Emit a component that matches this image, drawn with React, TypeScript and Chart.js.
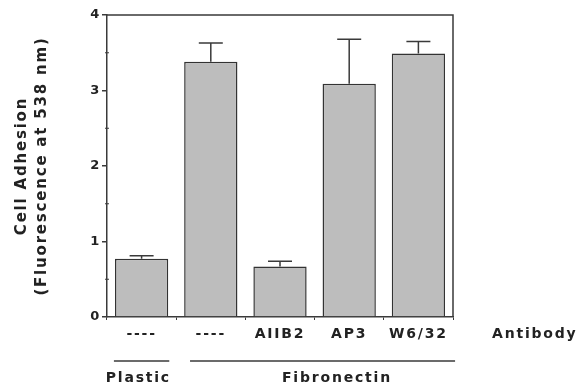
import { useEffect, useRef } from 'react';
import { Chart, registerables } from 'chart.js';

Chart.register(...registerables);

const categories = ['----', '----', 'AIIB2', 'AP3', 'W6/32'];
const adhesion = [0.77, 3.38, 0.67, 3.09, 3.49];
const errorUp = [0.04, 0.25, 0.07, 0.59, 0.16];
const yTicks = [0, 1, 2, 3, 4];
const yMinorTicks = [0.5, 1.5, 2.5, 3.5];
const groupLabels = ['Plastic', 'Fibronectin'];
const groupFirst = [0, 1];
const groupLast = [0, 4];
const rowLabel = 'Antibody';
const yTitle = ['Cell Adhesion', '(Fluorescence at 538 nm)'];

const FONT = "'DejaVu Sans', sans-serif";
const INK = '#222222';
const LINE = '#3a3a3a';
const SPACING = 1.8;

// style offsets (in category units) for group underline / label placement
const groupLineStart = [-0.4, -0.3];
const groupLineEnd = [0.4, 0.53];
const groupLabelShift = [-0.06, 0.31];

const annotPlugin = {
  id: 'annot',
  beforeDraw(chart: any) {
    chart.ctx.letterSpacing = `${SPACING}px`;
  },
  afterDatasetsDraw(chart: any) {
    const ctx = chart.ctx;
    const ys = chart.scales.y;
    const meta = chart.getDatasetMeta(0);
    ctx.save();
    ctx.strokeStyle = LINE;
    ctx.lineWidth = 1.5;
    ctx.beginPath();
    meta.data.forEach((bar: any, i: number) => {
      const x = bar.x;
      const top = ys.getPixelForValue(adhesion[i] + errorUp[i]);
      ctx.moveTo(x, bar.y);
      ctx.lineTo(x, top);
      ctx.moveTo(x - 12, top);
      ctx.lineTo(x + 12, top);
    });
    ctx.stroke();
    ctx.restore();
  },
  afterDraw(chart: any) {
    const ctx = chart.ctx;
    const { chartArea } = chart;
    const xs = chart.scales.x;
    const ys = chart.scales.y;
    ctx.save();
    ctx.strokeStyle = LINE;
    ctx.lineWidth = 1.5;
    ctx.beginPath();
    ctx.moveTo(chartArea.left, chartArea.top);
    ctx.lineTo(chartArea.right, chartArea.top);
    ctx.lineTo(chartArea.right, chartArea.bottom);
    ctx.stroke();
    ctx.lineWidth = 1;
    ctx.beginPath();
    yMinorTicks.forEach((v) => {
      const py = ys.getPixelForValue(v);
      ctx.moveTo(chartArea.left - 2, py);
      ctx.lineTo(chartArea.left + 2, py);
    });
    ctx.stroke();
    ctx.fillStyle = INK;
    ctx.font = `bold 14px ${FONT}`;
    ctx.textBaseline = 'middle';
    ctx.textAlign = 'center';
    ctx.lineWidth = 1.5;
    const lineY = chartArea.bottom + 44;
    const labelY = chartArea.bottom + 61;
    groupLabels.forEach((lab, g) => {
      const x0 = xs.getPixelForValue(groupFirst[g] + groupLineStart[g]);
      const x1 = xs.getPixelForValue(groupLast[g] + groupLineEnd[g]);
      ctx.beginPath();
      ctx.moveTo(x0, lineY);
      ctx.lineTo(x1, lineY);
      ctx.stroke();
      const xm = xs.getPixelForValue((groupFirst[g] + groupLast[g]) / 2 + groupLabelShift[g]);
      ctx.fillText(lab, xm + SPACING / 2, labelY);
    });
    ctx.textAlign = 'left';
    ctx.fillText(rowLabel, chartArea.right + 39, chartArea.bottom + 17);
    ctx.restore();
  },
};

export default function App() {
  const ref = useRef<HTMLCanvasElement>(null);
  useEffect(() => {
    document.body.style.margin = '0';
    const chart = new Chart(ref.current as HTMLCanvasElement, {
      type: 'bar',
      data: {
        labels: categories,
        datasets: [
          {
            data: adhesion,
            backgroundColor: '#bdbdbd',
            borderColor: '#333333',
            borderWidth: 1.5,
            barPercentage: 0.77,
            categoryPercentage: 1,
          },
        ],
      },
      options: {
        animation: false,
        responsive: false,
        layout: { padding: { top: 15, right: 129, left: 0, bottom: 0 } },
        plugins: { legend: { display: false }, tooltip: { enabled: false } },
        scales: {
          x: {
            afterFit: (s: any) => {
              s.height = 71;
            },
            border: { display: true, color: LINE, width: 1.5 },
            grid: {
              display: true,
              offset: true,
              drawOnChartArea: false,
              drawTicks: true,
              tickLength: 3,
              color: LINE,
              lineWidth: 1,
            },
            ticks: {
              autoSkip: false,
              maxRotation: 0,
              padding: 6,
              color: INK,
              font: { family: FONT, size: 14, weight: 'bold' },
            },
          },
          y: {
            min: 0,
            max: 4,
            afterFit: (s: any) => {
              s.width = 107;
            },
            afterBuildTicks: (s: any) => {
              s.ticks = yTicks.map((v) => ({ value: v }));
            },
            border: { display: true, color: LINE, width: 1.5 },
            grid: {
              display: true,
              drawOnChartArea: false,
              drawTicks: true,
              tickLength: 5,
              color: LINE,
              lineWidth: 1.5,
            },
            ticks: {
              padding: 1,
              color: INK,
              font: { family: FONT, size: 13, weight: 'bold' },
            },
            title: {
              display: true,
              text: yTitle,
              color: INK,
              padding: { top: 12, bottom: 0 },
              font: { family: FONT, size: 15, weight: 'bold', lineHeight: 1.33 },
            },
          },
        },
      },
      plugins: [annotPlugin],
    } as any);
    return () => chart.destroy();
  }, []);
  return (
    <div style={{ width: 582, height: 388 }}>
      <canvas ref={ref} width={582} height={388} />
    </div>
  );
}
